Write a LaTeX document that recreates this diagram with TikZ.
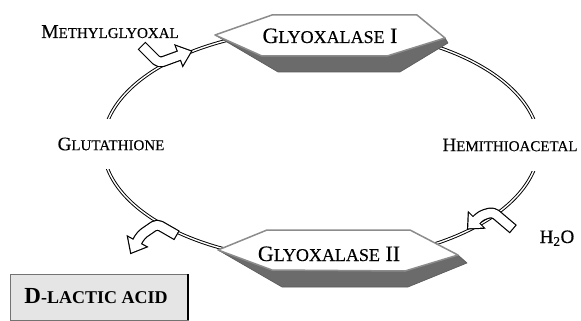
\documentclass[tikz,border=0pt]{standalone}
\usepackage{fontspec}
\setmainfont{Liberation Serif}
\newfontfamily\lblfont{Liberation Serif}[FakeBold=0.35]
\newcommand\scx[4]{{\fontsize{#1}{#1}\selectfont #3}{\fontsize{#2}{#2}\selectfont #4}}
\tikzset{
 lbl/.style={inner sep=0pt, anchor=base, font=\lblfont},
 cyc/.style={draw=black, line width=0.95pt, double=white, double distance=1.4pt},
 hexw/.style={fill=white, draw=black!45, line width=1.5pt, line join=round},
 hexs/.style={fill=black!58, draw=black!65, line width=0.6pt, line join=round},
 arrblk/.style={draw=black, line width=10.9pt, line join=round, rounded corners=4pt},
 arrwht/.style={draw=white, line width=8.5pt, line join=round, rounded corners=4pt, shorten <=1.2pt, shorten >=-2pt},
 headblk/.style={fill=black, draw=black, line width=2.4pt, line join=miter},
}
\begin{document}
\begin{tikzpicture}[x=1pt,y=-1pt]
\useasboundingbox (0,0) rectangle (581,321);
% cycle
\draw[cyc] (321,145) ellipse [x radius=218pt, y radius=116pt];
% Glyoxalase I
\draw[hexs] (215,35) -- (278,72) -- (400,72) -- (448,43) -- (445,38) -- cycle;
\draw[hexw] (215,35) -- (272,15) -- (417,15) -- (445,38) -- (387,56) -- (262,56) -- cycle;
\node[lbl] (g1) at (330,43) {\scx{22}{18}{G}{LYOXALASE}{\fontsize{22}{22}\selectfont\ I}};
% Glyoxalase II
\draw[hexs] (218,250) -- (282,287) -- (408,287) -- (467,263) -- (458,255) -- cycle;
\draw[hexw] (218,250) -- (267,230) -- (410,230) -- (458,255) -- (405,271) -- (272,270) -- cycle;
\node[lbl] (g2) at (329,261) {\scx{22}{18}{G}{LYOXALASE}{\fontsize{22}{22}\selectfont\ II}};
% side labels
\node[fill=white, font=\lblfont, inner xsep=2pt, inner ysep=0pt, minimum height=50pt] (glu) at (111,144) {\scx{19}{15}{G}{LUTATHIONE}};
\node[fill=white, font=\lblfont, inner xsep=2pt, inner ysep=0pt, minimum height=52pt] (hemi) at (510,145) {\scx{19}{15}{H}{EMITHIOACETAL}};
\node[lbl] (mg) at (110,38) {\scx{19.5}{15}{M}{ETHYLGLYOXAL}};
\node[lbl] (h2o) at (557,243) {\fontsize{19}{19}\selectfont H\textsubscript{2}O};
% D-lactic acid box
\draw[fill=black!10, draw=black!55, line width=0.8pt] (10,274) rectangle (188,320);
\draw[black, line width=1.6pt] (188,274) -- (188,320);
\node[inner sep=0pt, anchor=base] (dla) at (96,303) {\bfseries\scx{23}{18}{D}{-LACTIC ACID}};
% arrow 1 (methylglyoxal in)
\coordinate (a1t) at (141.5,45.5); \coordinate (a1c) at (159,63); \coordinate (a1b) at (179.5,55.5);
\coordinate (a1l) at (176.1,46.1); \coordinate (a1r) at (182.9,64.9); \coordinate (a1p) at (190.8,51.4);
\draw[arrblk] (a1t) -- (a1c) -- (a1b);
\filldraw[headblk] (a1l) -- (a1p) -- (a1r) -- cycle;
\draw[arrwht] (a1t) -- (a1c) -- (a1b);
\fill[white] (a1l) -- (a1p) -- (a1r) -- cycle;
% arrow 2 (D-lactic acid out)
\coordinate (a2t) at (177,235.5); \coordinate (a2c) at (157,224); \coordinate (a2q) at (141,235); \coordinate (a2b) at (137,242);
\coordinate (a2l) at (145.8,246.8); \coordinate (a2r) at (128.2,237.2); \coordinate (a2p) at (131.2,252.6);
\draw[arrblk] (a2t) -- (a2c) -- (a2q) -- (a2b);
\filldraw[headblk] (a2l) -- (a2p) -- (a2r) -- cycle;
\draw[arrwht] (a2t) -- (a2c) -- (a2q) -- (a2b);
\fill[white] (a2l) -- (a2p) -- (a2r) -- cycle;
% arrow 3 (water in)
\coordinate (a3t) at (513.3,229.2); \coordinate (a3c) at (493,212); \coordinate (a3q) at (481,215.5); \coordinate (a3b) at (476,220.5);
\coordinate (a3l) at (483.1,227.6); \coordinate (a3r) at (468.9,213.4); \coordinate (a3p) at (468.2,228.3);
\draw[arrblk] (a3t) -- (a3c) -- (a3q) -- (a3b);
\filldraw[headblk] (a3l) -- (a3p) -- (a3r) -- cycle;
\draw[arrwht] (a3t) -- (a3c) -- (a3q) -- (a3b);
\fill[white] (a3l) -- (a3p) -- (a3r) -- cycle;
\end{tikzpicture}
\end{document}
